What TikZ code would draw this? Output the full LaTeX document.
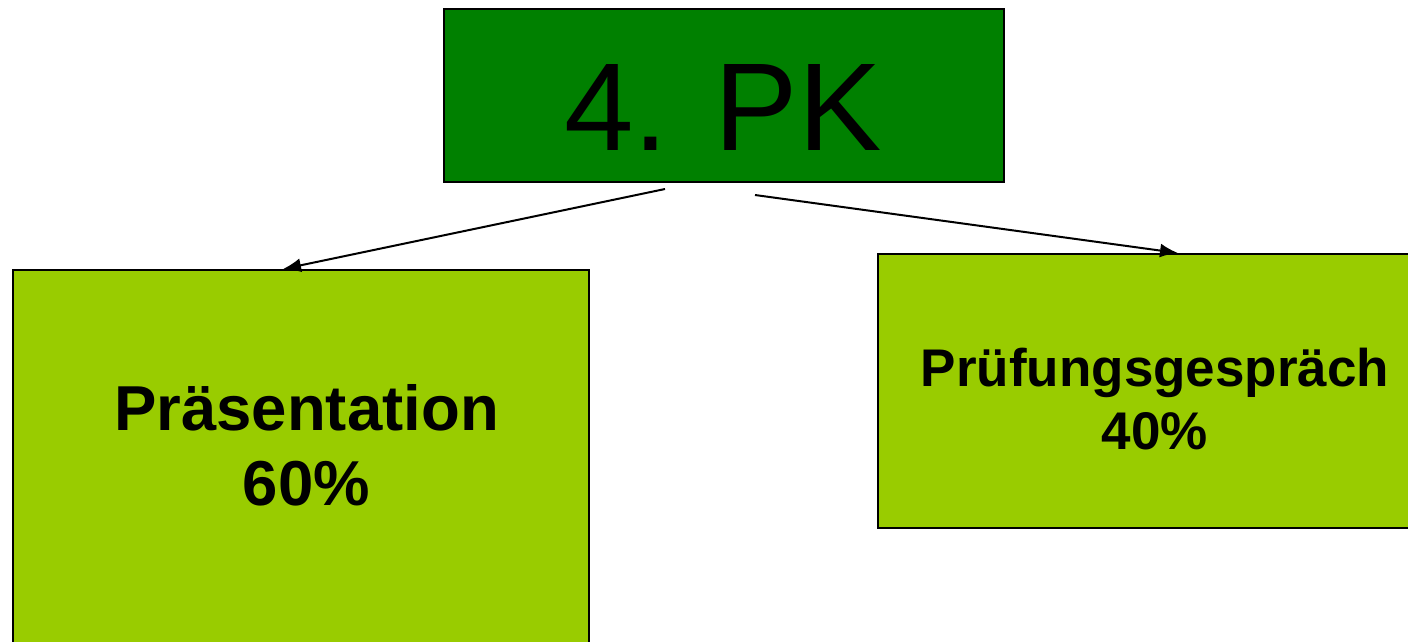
\documentclass[tikz,border=0pt]{standalone}
\usepackage{fontspec}
\setmainfont{Liberation Sans}
\usetikzlibrary{arrows.meta}
\definecolor{dkgreen}{HTML}{008000}
\definecolor{ltgreen}{HTML}{99CC00}
\tikzset{
  box/.style={draw=black, line width=1.5pt, rectangle, inner sep=0pt, anchor=north west},
  arr/.style={-{Latex[length=18pt,width=14pt]}, line width=2pt, black},
  bigtxt/.style={font=\fontsize{125}{125}\selectfont, inner sep=0pt, anchor=base},
  lbl/.style={align=center, inner sep=0pt}
}
\begin{document}
\begin{tikzpicture}[x=1pt,y=-1pt]
\useasboundingbox (0,0) rectangle (1408,641);
\clip (0,0) rectangle (1408,641);
\node[box, fill=dkgreen, minimum width=560pt, minimum height=173pt] (pk) at (443,8) {};
\node[bigtxt] (pkt) at (723,150) {4. PK};
\node[box, fill=ltgreen, minimum width=576pt, minimum height=420pt] (pres) at (12,269) {};
\node[lbl, font=\bfseries\fontsize{63.5}{75}\selectfont] (prest) at (306.5,445) {Präsentation\\60\%};
\node[box, fill=ltgreen, minimum width=556pt, minimum height=274pt] (pg) at (877,253) {};
\node[lbl, font=\bfseries\fontsize{53}{63}\selectfont] (pgt) at (1155,399.5) {Prüfungsgespräch\\40\%};
\coordinate (s1) at (665,189);
\coordinate (e1) at (283,269);
\coordinate (s2) at (755,195);
\coordinate (e2) at (1178,253);
\draw[arr] (s1) -- (e1);
\draw[arr] (s2) -- (e2);
\end{tikzpicture}
\end{document}
